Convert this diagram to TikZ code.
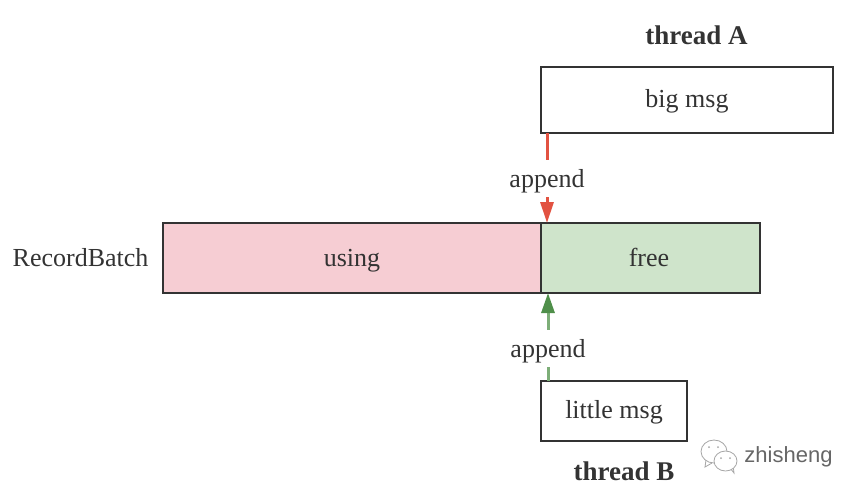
\documentclass[tikz,border=0pt]{standalone}
\usepackage{fontspec}
\setmainfont{Liberation Serif}
\setsansfont{Liberation Sans}
\usepackage{tikz}
\usetikzlibrary{positioning}
\usetikzlibrary{arrows.meta}
\usetikzlibrary{shapes.geometric}
\definecolor{inkgray}{HTML}{333333}
\definecolor{usingpink}{HTML}{F6CDD3}
\definecolor{freegreen}{HTML}{CFE4CB}
\definecolor{appendred}{HTML}{E25241}
\definecolor{headgreen}{HTML}{4F8F4A}
\definecolor{shaftgreen}{HTML}{7DAE78}

\begin{document}
\begin{tikzpicture}[
        x=1pt, y=-1pt,
        every node/.style = {font=\fontsize{26}{30}\selectfont, text=inkgray},
        box/.style = {
            draw=inkgray,
            line width=2pt,
            inner sep=0pt,
            outer sep=0pt,
            text height=21pt,
            text depth=4pt,
            minimum width=#1
        },
        box/.default = 146pt,
        msgbox/.style = {box=#1, text height=18pt, anchor=north west},
        msgbox/.default = 146pt,
        title/.style = {font=\fontsize{27}{30}\selectfont\bfseries},
        tag/.style = {fill=white, inner xsep=3pt, inner ysep=6pt, text height=22pt, text depth=3pt},
        bubble/.style = {draw=black!35, line width=0.8pt, fill=white, ellipse, inner sep=0pt}
        ]
        \useasboundingbox (0,0) rectangle (860,496);
%
        \node[box=378pt, minimum height=70pt, fill=usingpink, anchor=north west] (using) at (163,223) {using};
        \node[box=219pt, minimum height=70pt, fill=freegreen, right=0pt of using] (free) {free\hspace*{3pt}};
        \node[left=11pt of using, text height=21pt, text depth=4pt] (batch) {RecordBatch};
%
        \node[msgbox=292pt, minimum height=66pt] (big) at (541,67) {big msg};
        \node[msgbox, minimum height=60pt] (little) at (541,381) {little msg};
%
        \node[title] (threadA) at (696.5,35) {thread A};
        \node[title] (threadB) at (624,471) {thread B};
%
        \draw[appendred, line width=3pt, -{Triangle[length=21pt, width=13pt]}]
                ([xshift=6pt]big.south west) -- node[tag, pos=0.5]{append} ([xshift=6pt]using.north east);
%
        \draw[shaftgreen, line width=3pt, -{Triangle[length=20pt, width=13pt, color=headgreen]}]
                ([xshift=7pt]little.north west) -- node[tag, pos=0.375]{append} ([xshift=7pt]using.south east);
%
        \draw[draw=black!35, line width=0.8pt] (706,460) -- (705,467) -- (712,463);
        \node[bubble, minimum width=26pt, minimum height=23pt] (bubbleL) at (714,451.5) {};
        \draw[draw=black!35, line width=0.8pt] (730,468) -- (734,473) -- (733,465);
        \node[bubble, minimum width=23pt, minimum height=20pt] (bubbleR) at (725.5,461) {};
        \foreach \eyex/\eyey in {709/447, 718/447, 721/458, 730/458}
            \fill[black!35] (\eyex,\eyey) circle (1pt);
        \node[font=\fontsize{22}{24}\selectfont\sffamily, text=black!60] (mark) at (788.5,457) {zhisheng};
    \end{tikzpicture}
\end{document}
